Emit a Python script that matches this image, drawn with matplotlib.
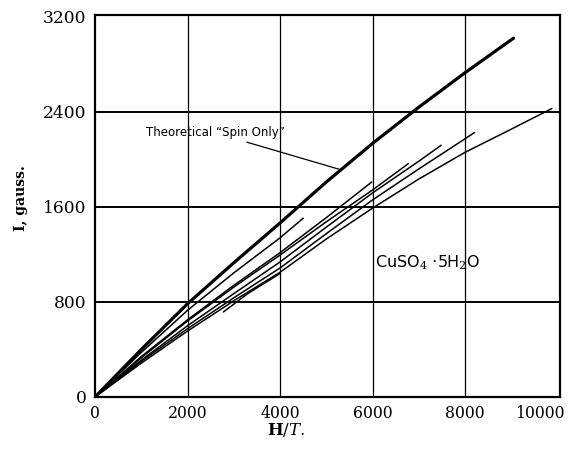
import matplotlib
matplotlib.use("Agg")
import matplotlib.pyplot as plt
from matplotlib.transforms import ScaledTranslation

plt.rcParams["mathtext.fontset"] = "dejavuserif"

# Theoretical "spin only" curve
theory_x = [0, 1000, 2000, 3000, 4000, 5000, 6000, 7000, 8000, 9045]
theory_y = [0, 400, 785, 1130, 1465, 1810, 2135, 2440, 2730, 3020]

# Experimental runs (CuSO4·5H2O)
run_a_x = [0, 1000, 2000, 3000, 4000, 4500]
run_a_y = [0, 375, 730, 1045, 1340, 1505]
run_b_x = [0, 1000, 2000, 3000, 4000, 5000, 5982]
run_b_y = [0, 340, 650, 940, 1215, 1510, 1810]
run_c_x = [0, 1000, 2000, 3000, 4000, 5000, 6000, 6775]
run_c_y = [0, 330, 640, 925, 1195, 1475, 1743, 1965]
run_d_x = [0, 1000, 2000, 3000, 4000, 5000, 6000, 7000, 7481]
run_d_y = [0, 310, 600, 870, 1137, 1430, 1718, 1985, 2119]
run_e_x = [0, 1000, 2000, 3000, 4000, 5000, 6000, 7000, 8000, 8201]
run_e_y = [0, 300, 575, 835, 1086, 1375, 1659, 1920, 2174, 2226]
run_f_x = [0, 1000, 2000, 3000, 4000, 5000, 6000, 7000, 8000, 9000, 9873]
run_f_y = [0, 285, 555, 810, 1050, 1330, 1590, 1835, 2060, 2255, 2428]
run_g_x = [2775, 3300, 4000]
run_g_y = [716, 870, 1040]

x_ticks = [0, 2000, 4000, 6000, 8000, 10000]
y_ticks = [0, 800, 1600, 2400, 3200]

fig = plt.figure(figsize=(5.78, 4.58), dpi=100)
ax = fig.add_axes([0.1644, 0.1332, 0.8045, 0.834])

serif = "DejaVu Serif"

for xx, yy in [(run_a_x, run_a_y), (run_b_x, run_b_y), (run_c_x, run_c_y),
               (run_d_x, run_d_y), (run_e_x, run_e_y), (run_f_x, run_f_y),
               (run_g_x, run_g_y)]:
    ax.plot(xx, yy, color="black", lw=1.1, solid_capstyle="round")
ax.plot(theory_x, theory_y, color="black", lw=2.3, solid_capstyle="round")

ax.set_xlim(0, 10050)
ax.set_ylim(0, 3215)
ax.set_xticks(x_ticks)
ax.set_yticks(y_ticks)
ax.set_xticklabels([str(v) for v in x_ticks], family=serif, fontsize=11.3)
ax.set_yticklabels([str(v) for v in y_ticks], family=serif, fontsize=12.3)
ax.tick_params(axis="x", length=0, pad=6)
ax.tick_params(axis="y", length=0, pad=6)

last = ax.get_xticklabels()[-1]
last.set_transform(last.get_transform() + ScaledTranslation(-13 / 72, 0, fig.dpi_scale_trans))

for v in [2000, 4000, 6000, 8000]:
    ax.axvline(v, color="black", lw=0.9, zorder=0)
for v in [800, 1600, 2400]:
    ax.axhline(v, color="black", lw=1.4, zorder=0)
for s in ax.spines.values():
    s.set_linewidth(1.6)

ax.set_xlabel(r"$\mathbf{H}/T.$", fontsize=12)
ax.xaxis.set_label_coords(0.41, -0.062)
ax.set_ylabel("I, gauss.", family=serif, fontsize=10, fontweight="bold")
ax.yaxis.set_label_coords(-0.145, 0.52)

ax.annotate("Theoretical \u201cSpin Only\u201d", xy=(5292, 1915), xytext=(4100, 2223),
            fontsize=8.5, family="DejaVu Sans", ha="right", va="center",
            arrowprops=dict(arrowstyle="-", color="black", lw=0.9, shrinkA=0, shrinkB=0))

ax.text(6050, 1128, r"CuSO$_4$ $\cdot$5H$_2$O", fontsize=11.5, family="DejaVu Sans",
        ha="left", va="center")

fig.savefig("out.png", dpi=100)
